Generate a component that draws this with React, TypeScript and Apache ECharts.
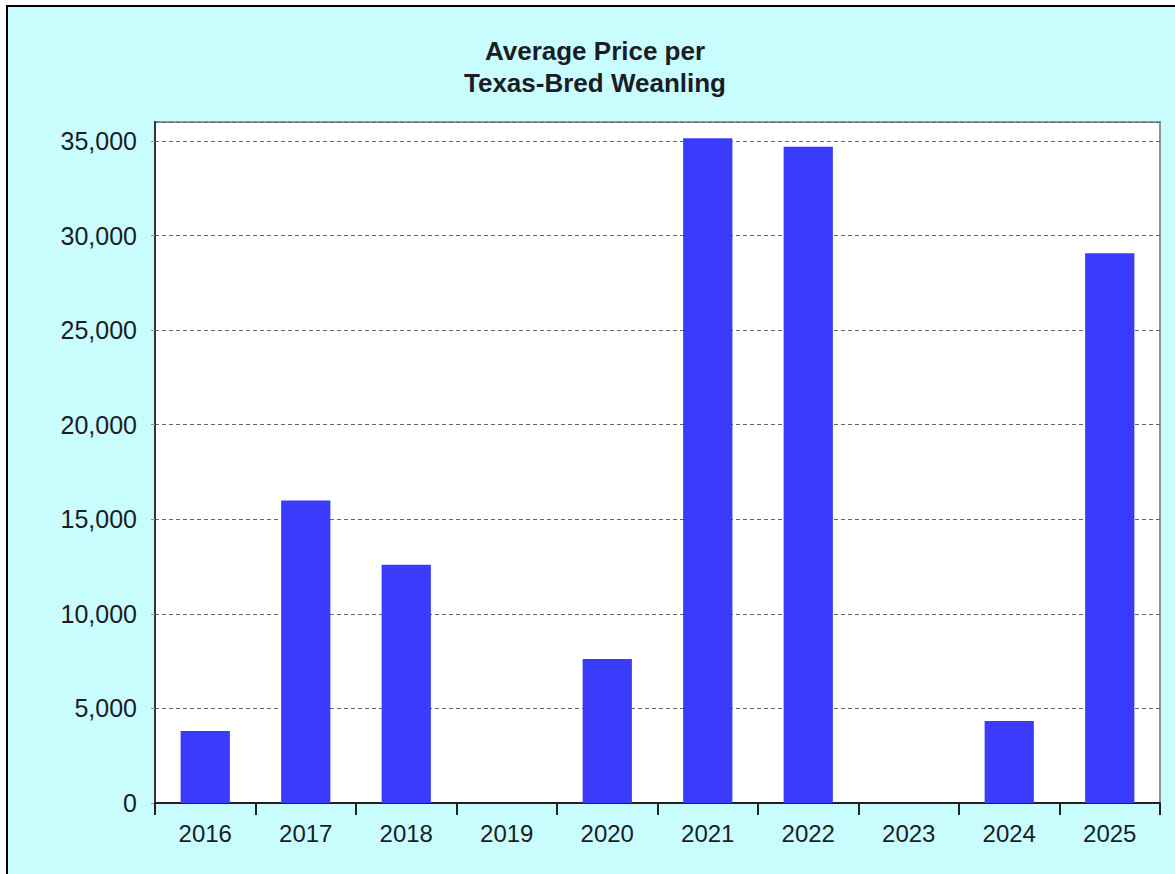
import React, { useEffect, useRef } from "react";
import * as echarts from "echarts";

const titleLines = ["Average Price per", "Texas-Bred Weanling"];
const years = ["2016", "2017", "2018", "2019", "2020", "2021", "2022", "2023", "2024", "2025"];
const avgPrice = [3810, 15990, 12590, 0, 7610, 35140, 34690, 0, 4340, 29060];
const yMin = 0;
const yMax = 36000;
const yStep = 5000;

export default function App() {
  const ref = useRef<HTMLDivElement>(null);
  useEffect(() => {
    if (!ref.current) return;
    const chart = echarts.init(ref.current, null, { renderer: "svg" });
    const font = "'Liberation Sans', Arial, sans-serif";
    chart.setOption({
      animation: false,
      backgroundColor: "#c9fcfd",
      title: {
        text: titleLines.join("\n"),
        left: 582,
        top: 23,
        textAlign: "center",
        textStyle: {
          fontFamily: font,
          fontWeight: "bold",
          fontSize: 26,
          lineHeight: 32,
          color: "#1a1d26",
        },
      },
      grid: {
        left: 147,
        top: 115,
        right: 48,
        bottom: 104,
        show: true,
        backgroundColor: "#ffffff",
        borderColor: "#8a9494",
        borderWidth: 2,
      },
      xAxis: {
        type: "category",
        data: years,
        boundaryGap: true,
        axisLine: { lineStyle: { color: "#222", width: 2 } },
        axisTick: { show: true, length: 12, inside: false, lineStyle: { color: "#222", width: 2 }, alignWithLabel: false },
        axisLabel: { fontFamily: font, fontSize: 24, color: "#1a1d26", margin: 18 },
      },
      yAxis: {
        type: "value",
        min: yMin,
        max: yMax,
        interval: yStep,
        axisLine: { show: true, lineStyle: { color: "#333", width: 2 } },
        axisTick: { show: true, length: 4, lineStyle: { color: "#999" } },
        axisLabel: {
          fontFamily: font,
          fontSize: 25,
          color: "#1a1d26",
          margin: 18,
          showMaxLabel: false,
          formatter: (v: number) => (v > 35000 ? "" : v.toLocaleString("en-US")),
        },
        splitLine: { show: true, lineStyle: { color: "#666", type: [4, 3], width: 1 } },
      },
      series: [
        {
          type: "bar",
          data: avgPrice,
          barWidth: "49%",
          itemStyle: { color: "#3b3bfc" },
        },
      ],
    });
    return () => chart.dispose();
  }, []);

  return (
    <div style={{ position: "fixed", left: 0, top: 0, width: 1175, height: 874, overflow: "hidden", background: "#fff" }}>
      <div
        style={{
          position: "absolute",
          left: 6,
          top: 5,
          width: 1200,
          height: 900,
          border: "2px solid #000",
          background: "#c9fcfd",
        }}
      >
        <div ref={ref} style={{ width: 1200, height: 900 }} />
      </div>
    </div>
  );
}
